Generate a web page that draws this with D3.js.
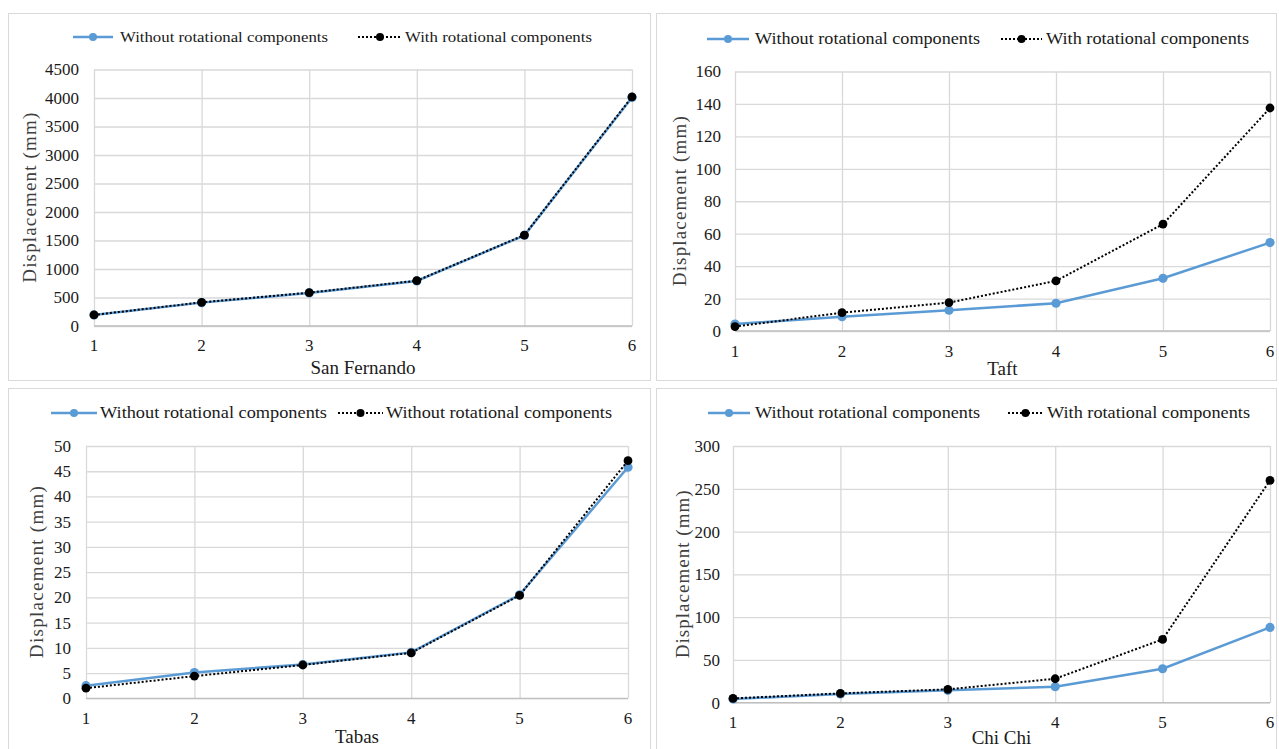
<!DOCTYPE html>
<html>
<head>
<meta charset="utf-8">
<script src="https://cdn.jsdelivr.net/npm/d3@7/dist/d3.min.js"></script>
<style>
  html, body { margin: 0; padding: 0; background: #fff; }
  svg { display: block; }
  svg text { font-family: "Liberation Serif", "Times New Roman", serif; }
</style>
</head>
<body>
<svg id="chart" width="1279" height="749"></svg>
<script>
// Storey numbers along the x axis
const stories = [1, 2, 3, 4, 5, 6];

// Displacement (mm) per record
const sanFernandoWithout = [195, 410, 580, 790, 1590, 4010];
const sanFernandoWith    = [195, 415, 585, 795, 1595, 4020];
const taftWithout  = [4.3, 8.8, 12.8, 17.1, 32.5, 54.5];
const taftWith     = [2.7, 11.3, 17.5, 30.9, 65.9, 137.5];
const tabasWithout = [2.5, 5.1, 6.7, 9.1, 20.5, 45.8];
const tabasWith    = [2.0, 4.4, 6.6, 9.0, 20.4, 47.1];
const chiChiWithout = [4.3, 10.2, 14.5, 18.7, 39.7, 88];
const chiChiWith    = [5.0, 10.9, 15.6, 28.0, 74.0, 259.8];

// Y tick values
const sanFernandoTicks = [0, 500, 1000, 1500, 2000, 2500, 3000, 3500, 4000, 4500];
const taftTicks   = [0, 20, 40, 60, 80, 100, 120, 140, 160];
const tabasTicks  = [0, 5, 10, 15, 20, 25, 30, 35, 40, 45, 50];
const chiChiTicks = [0, 50, 100, 150, 200, 250, 300];

// Titles and legend labels
const recordNames = ["San Fernando", "Taft", "Tabas", "Chi Chi"];
const legendLabels = [
  ["Without rotational components", "With rotational components"],
  ["Without rotational components", "With rotational components"],
  ["Without rotational components", "Without rotational components"],
  ["Without rotational components", "With rotational components"]
];
const yTitle = "Displacement (mm)";

const BLUE = "#5b9bd5";
const GRID = "#d9d9d9";
const INK = "#1a1a1a";

// Panel layout
const panels = [
  { name: recordNames[0], without: sanFernandoWithout, withR: sanFernandoWith, ticks: sanFernandoTicks,
    legend: legendLabels[0],
    box: [8, 13, 642, 367], x0: 94, x1: 632, yBottom: 326, yTop: 69.5,
    tickRight: 79, xTickY: 351, xTitleY: 374, yTitleX: 36, yTitleLen: 170,
    lg: { y: 37, l1: [73, 113], t1: 120, w1: 208, l2: [358, 402], t2: 405, w2: 187, fs: 15 } },
  { name: recordNames[1], without: taftWithout, withR: taftWith, ticks: taftTicks,
    legend: legendLabels[1],
    box: [656, 13, 620, 367], x0: 735, x1: 1270, yBottom: 331, yTop: 71.5,
    tickRight: 721, xTickY: 357, xTitleY: 375, yTitleX: 686, yTitleLen: 170,
    lg: { y: 39, l1: [707, 749], t1: 755, w1: 225, l2: [1001, 1042], t2: 1046, w2: 203, fs: 17 } },
  { name: recordNames[2], without: tabasWithout, withR: tabasWith, ticks: tabasTicks,
    legend: legendLabels[2],
    box: [8, 388, 642, 370], x0: 86, x1: 628, yBottom: 698.3, yTop: 446,
    tickRight: 71, xTickY: 724, xTitleY: 743, yTitleX: 43, yTitleLen: 172,
    lg: { y: 413, l1: [51, 97], t1: 100, w1: 227, l2: [338, 383], t2: 386, w2: 226, fs: 17 } },
  { name: recordNames[3], without: chiChiWithout, withR: chiChiWith, ticks: chiChiTicks,
    legend: legendLabels[3],
    box: [656, 388, 620, 370], x0: 733, x1: 1270, yBottom: 702.7, yTop: 446,
    tickRight: 720, xTickY: 728, xTitleY: 744, yTitleX: 689, yTitleLen: 168,
    lg: { y: 413, l1: [708, 750], t1: 755, w1: 225, l2: [1008, 1043], t2: 1047, w2: 203, fs: 17 } }
];

const svg = d3.select("#chart");

panels.forEach(p => {
  const g = svg.append("g");

  // Panel frame
  g.append("rect")
    .attr("x", p.box[0] + 0.5).attr("y", p.box[1] + 0.5)
    .attr("width", p.box[2]).attr("height", p.box[3])
    .attr("fill", "#fff").attr("stroke", GRID).attr("stroke-width", 1);

  const x = d3.scalePoint().domain(stories).range([p.x0, p.x1]);
  const y = d3.scaleLinear().domain([0, d3.max(p.ticks)]).range([p.yBottom, p.yTop]);

  // Horizontal gridlines
  g.append("g")
    .attr("transform", `translate(${p.x0},0)`)
    .call(d3.axisLeft(y).tickValues(p.ticks).tickSize(-(p.x1 - p.x0)).tickFormat(""))
    .call(a => a.select(".domain").remove())
    .call(a => a.selectAll("line").attr("stroke", GRID).attr("stroke-width", 1.3));

  // Vertical gridlines
  g.append("g")
    .attr("transform", `translate(0,${p.yBottom})`)
    .call(d3.axisBottom(x).tickSize(-(p.yBottom - p.yTop)).tickFormat(""))
    .call(a => a.select(".domain").remove())
    .call(a => a.selectAll("line").attr("stroke", GRID).attr("stroke-width", 1.3));

  // X axis line
  g.append("line")
    .attr("x1", p.x0).attr("x2", p.x1)
    .attr("y1", y(0)).attr("y2", y(0))
    .attr("stroke", "#bfbfbf").attr("stroke-width", 1.3);

  // Y tick labels
  g.append("g")
    .attr("transform", `translate(${p.tickRight},0)`)
    .call(d3.axisLeft(y).tickValues(p.ticks).tickSize(0).tickPadding(0).tickFormat(d3.format("d")))
    .call(a => a.select(".domain").remove())
    .call(a => a.selectAll("text")
      .style("font-family", "'Liberation Serif', serif")
      .style("font-size", "17px").attr("fill", INK));

  // X tick labels
  g.append("g").selectAll("text").data(stories).join("text")
    .attr("x", d => x(d)).attr("y", p.xTickY)
    .attr("text-anchor", "middle")
    .style("font-size", "17px").attr("fill", INK)
    .text(d => d);

  // Axis titles
  g.append("text")
    .attr("x", (p.x0 + p.x1) / 2).attr("y", p.xTitleY)
    .attr("text-anchor", "middle")
    .style("font-size", "19px").attr("fill", INK)
    .text(p.name);

  g.append("text")
    .attr("transform", `translate(${p.yTitleX},${(p.yTop + p.yBottom) / 2}) rotate(-90)`)
    .attr("text-anchor", "middle")
    .style("font-size", "19px").attr("fill", "#404040")
    .attr("textLength", p.yTitleLen).attr("lengthAdjust", "spacing")
    .text(yTitle);

  const line = d3.line().x((d, i) => x(stories[i])).y(d => y(d));

  // Series without rotation: solid blue
  g.append("path").datum(p.without)
    .attr("d", line).attr("fill", "none")
    .attr("stroke", BLUE).attr("stroke-width", 2.5);
  g.append("g").selectAll("circle").data(p.without).join("circle")
    .attr("cx", (d, i) => x(stories[i])).attr("cy", d => y(d))
    .attr("r", 4.6).attr("fill", BLUE);

  // Series with rotation: black dotted
  g.append("path").datum(p.withR)
    .attr("d", line).attr("fill", "none")
    .attr("stroke", "#000").attr("stroke-width", 2)
    .attr("stroke-dasharray", "2,2");
  g.append("g").selectAll("circle").data(p.withR).join("circle")
    .attr("cx", (d, i) => x(stories[i])).attr("cy", d => y(d))
    .attr("r", 4.4).attr("fill", "#000");

  // Legend
  const lg = p.lg;
  const L = g.append("g");
  L.append("line").attr("x1", lg.l1[0]).attr("x2", lg.l1[1])
    .attr("y1", lg.y).attr("y2", lg.y)
    .attr("stroke", BLUE).attr("stroke-width", 2.5);
  L.append("circle").attr("cx", (lg.l1[0] + lg.l1[1]) / 2).attr("cy", lg.y)
    .attr("r", 4).attr("fill", BLUE);
  L.append("text").attr("x", lg.t1).attr("y", lg.y + 5)
    .style("font-size", lg.fs + "px").attr("fill", INK)
    .attr("textLength", lg.w1).attr("lengthAdjust", "spacingAndGlyphs")
    .text(p.legend[0]);
  L.append("line").attr("x1", lg.l2[0]).attr("x2", lg.l2[1])
    .attr("y1", lg.y).attr("y2", lg.y)
    .attr("stroke", "#000").attr("stroke-width", 2)
    .attr("stroke-dasharray", "2,2");
  L.append("circle").attr("cx", (lg.l2[0] + lg.l2[1]) / 2).attr("cy", lg.y)
    .attr("r", 4).attr("fill", "#000");
  L.append("text").attr("x", lg.t2).attr("y", lg.y + 5)
    .style("font-size", lg.fs + "px").attr("fill", INK)
    .attr("textLength", lg.w2).attr("lengthAdjust", "spacingAndGlyphs")
    .text(p.legend[1]);
});
</script>
</body>
</html>
